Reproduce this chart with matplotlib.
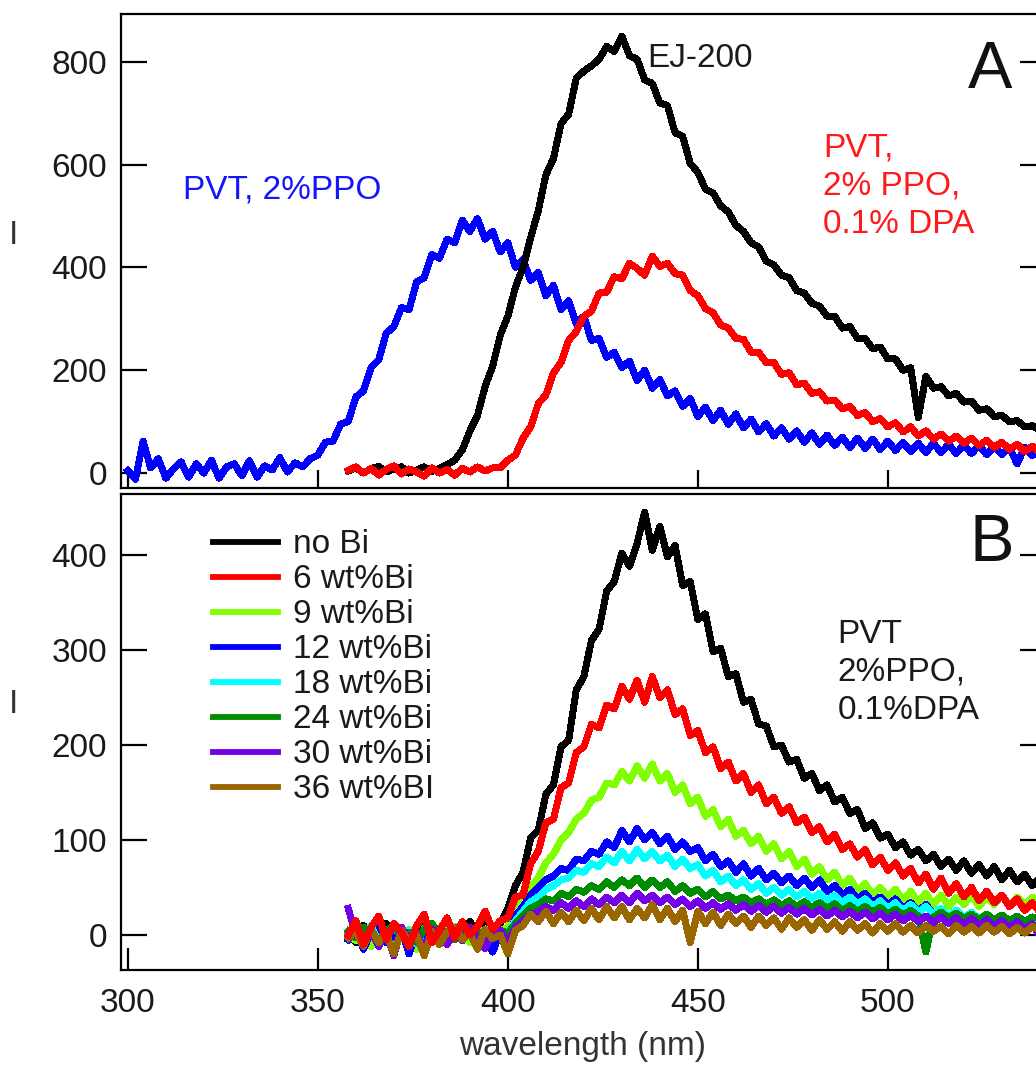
import numpy as np
import matplotlib.pyplot as plt

plt.rcParams['font.family'] = ['Liberation Sans', 'DejaVu Sans']

# ---------- panel A: pure scintillator spectra ----------
wl_ppo = np.arange(300, 541, 2)
ppo = [5, -12, 62, 10, 28, -10, 8, 22, -8, 18, 0, 25, -10, 12, 18, -5, 24, -8, 14, 6,
       30, 2, 20, 12, 28,
       35, 60, 62, 95, 100, 148, 160, 205, 220, 272,
       285, 322, 318, 372, 380, 425, 418, 455, 448, 492,
       470, 495, 455, 470, 430, 448, 400, 415, 375, 390,
       345, 365, 318, 335, 290, 305, 258, 262, 225, 235,
       205, 218, 180, 200, 165, 182, 150, 160, 130, 145,
       110, 128, 102, 122, 95, 115, 88, 105, 80, 96,
       72, 88, 66, 82, 60, 78, 56, 74, 54, 70,
       50, 68, 48, 66, 46, 62, 44, 60, 42, 58,
       40, 58, 40, 56, 38, 55, 38, 54, 36, 52,
       36, 50, 18, 50, 34, 48]

wl = np.arange(358, 541, 2)
ej200 = [4, 10, 0, 9, 13, 2, 8, 12, 0, 6, 12, 3, 9, 16,
         25, 45, 82, 112, 168, 208, 268, 305, 362, 400,
         458, 510, 580, 612, 680, 698, 768, 782, 792, 805,
         830, 820, 850, 812, 805, 765, 758, 720, 715, 662,
         655, 602, 585, 552, 545, 520, 508, 482, 470, 448,
         440, 412, 405, 385, 380, 355, 350, 330, 325, 305,
         305, 282, 285, 262, 262, 242, 245, 222, 222, 200,
         205, 108, 188, 165, 168, 150, 155, 138, 140, 122,
         125, 110, 112, 100, 102, 90, 92, 84]
ppo_dpa = [5, 12, 0, 9, -4, 7, 14, -2, 8, 2, -6, 10, 0, 7, -4, 9, 2, 12, 4, 10,
           10, 25, 35, 68, 90, 135, 152, 195, 215, 258,
           275, 305, 315, 350, 352, 382, 378, 408, 398, 385,
           422, 402, 408, 388, 385, 355, 345, 320, 312, 288,
           282, 262, 260, 235, 235, 215, 215, 192, 195, 172,
           175, 155, 158, 140, 142, 125, 130, 112, 118, 100,
           106, 90, 98, 80, 90, 72, 82, 66, 76, 62,
           72, 58, 68, 54, 64, 50, 60, 46, 56, 42,
           52, 40]

# ---------- panel B: Bi-loaded PVT, 2%PPO, 0.1%DPA ----------
bi_labels = ['no Bi', '6 wt%Bi', '9 wt%Bi', '12 wt%Bi',
             '18 wt%Bi', '24 wt%Bi', '30 wt%Bi', '36 wt%BI']
bi_colors = ['#000000', '#ff0000', '#80ff00', '#0000ff',
             '#00ffff', '#008c00', '#7300e6', '#996600']

bi_0 = [3, -8, 10, 2, -5, 12, 0, 8, -6, 4, 15, -3, 6, 10, -2, 7, 14, 3, 18, 8, 12,
        28, 52, 66, 102, 110, 148, 158, 198, 205, 258,
        272, 310, 322, 362, 372, 402, 388, 412, 445, 405,
        430, 398, 410, 368, 372, 332, 338, 298, 302, 272,
        275, 245, 248, 222, 220, 198, 200, 182, 185, 165,
        170, 152, 158, 140, 145, 128, 132, 112, 118, 102,
        106, 92, 98, 84, 90, 78, 85, 72, 80, 68,
        78, 65, 74, 62, 72, 58, 68, 56, 64, 52,
        60]
bi_6 = [0, 15, -10, 8, 20, -5, 12, 3, -12, 10, 22, -8, 5, 18, -3, 14, 0, 9, 25, 6, 15,
        18, 40, 42, 75, 88, 118, 122, 155, 160, 192,
        198, 222, 218, 242, 238, 262, 248, 268, 245, 272,
        250, 258, 232, 238, 210, 215, 192, 198, 175, 182,
        162, 170, 150, 158, 138, 145, 128, 135, 118, 124,
        108, 114, 98, 106, 90, 96, 82, 90, 74, 82,
        68, 76, 62, 70, 55, 64, 48, 60, 44, 54,
        40, 50, 36, 46, 34, 42, 30, 38, 26, 34,
        24]
bi_9 = [2, -6, 8, -12, 5, 0, 10, -4, 6, -15, 3, 8, -2, 12, 0, 5, -8, 6, 2, 10, 4,
        8, 28, 38, 52, 60, 76, 85, 100, 108, 122,
        128, 142, 145, 160, 158, 172, 162, 178, 165, 180,
        162, 170, 150, 158, 138, 145, 125, 132, 114, 122,
        104, 110, 96, 104, 88, 96, 80, 88, 72, 80,
        64, 72, 58, 66, 52, 60, 46, 54, 42, 50,
        40, 48, 36, 46, 34, 44, 32, 42, 30, 40,
        32, 42, 30, 40, 32, 42, 30, 40, 32, 40,
        34]
bi_12 = [-5, 8, -15, 3, 10, -8, 0, 6, -20, 4, -3, 12, -10, 2, 5, -6, 8, -12, 0, -18, 3,
         -10, 20, 30, 42, 50, 58, 62, 70, 68, 80,
         78, 88, 85, 98, 92, 110, 98, 112, 100, 108,
         96, 104, 90, 98, 88, 92, 78, 85, 72, 78,
         66, 75, 62, 70, 58, 65, 55, 62, 52, 60,
         50, 58, 46, 52, 42, 48, 38, 44, 34, 40,
         32, 38, 28, 34, 25, 32, 22, 28, 20, 26,
         18, 24, 16, 22, 15, 21, 14, 20, 12, 18,
         14]
bi_18 = [0, 6, -4, 10, -8, 3, 8, -2, 5, -10, 7, 0, -5, 4, 9, -3, 6, -6, 2, 5, 0,
         3, 15, 25, 35, 40, 48, 52, 58, 60, 68,
         66, 75, 72, 82, 76, 88, 78, 90, 80, 88,
         78, 84, 72, 80, 70, 74, 62, 68, 56, 62,
         52, 58, 48, 54, 44, 50, 42, 48, 40, 46,
         38, 44, 36, 42, 34, 40, 32, 38, 30, 36,
         28, 34, 26, 32, 24, 30, 22, 28, 20, 26,
         18, 24, 17, 22, 16, 21, 14, 20, 13, 18,
         12]
bi_24 = [4, -3, 8, 0, -6, 5, 10, -2, 3, -8, 6, 12, 0, 4, -5, 8, 2, -3, 6, 0, 5,
         2, 12, 20, 28, 32, 38, 36, 44, 40, 48,
         45, 52, 48, 56, 50, 58, 52, 60, 50, 58,
         50, 56, 46, 52, 44, 48, 40, 46, 38, 42,
         36, 40, 34, 38, 32, 37, 31, 36, 30, 35,
         29, 34, 28, 33, 26, 31, 25, 30, 24, 29,
         22, 27, 21, 26, 20, -18, 19, 24, 18, 23,
         17, 22, 16, 22, 16, 21, 15, 20, 14, 19,
         18]
bi_30 = [28, 0, -8, 5, -12, 3, -22, 8, -5, 2, -15, 6, 0, -10, 4, -6, 8, -3, -14, 2, 5,
         -8, 8, 15, 22, 24, 30, 26, 34, 28, 36,
         30, 38, 32, 40, 34, 42, 34, 44, 36, 42,
         34, 40, 32, 38, 30, 36, 28, 34, 27, 33,
         26, 32, 25, 31, 24, 30, 23, 29, 22, 28,
         21, 27, 20, 26, 19, 25, 18, 24, 17, 23,
         16, 22, 15, 21, 14, 20, 13, 19, 12, 18,
         11, 17, 10, 16, 9, 15, 8, 14, 6, 12,
         -2]
bi_36 = [-3, 4, -12, 6, -8, 2, -20, 5, -6, 0, -22, 4, -10, 3, 8, -5, 2, -15, 6, -4, 0,
         -20, 5, 10, 22, 14, 25, 12, 24, 14, 26,
         15, 28, 16, 30, 18, 30, 16, 28, 18, 32,
         16, 28, 14, 26, -8, 25, 12, 24, 10, 22,
         12, 20, 8, 20, 10, 18, 6, 18, 8, 16,
         5, 16, 6, 14, 4, 14, 5, 12, 2, 12,
         4, 12, 3, 10, 2, 10, 4, 9, 1, 10,
         3, 9, 2, 10, 3, 9, 1, 8, 2, 9,
         5]
bi_series = [bi_0, bi_6, bi_9, bi_12, bi_18, bi_24, bi_30, bi_36]

fs = 24
txt = '#1a1a1a'
fig = plt.figure(figsize=(10.36, 10.68), dpi=100)
axA = fig.add_axes([0.1168, 0.5431, 0.8851, 0.4438])
axB = fig.add_axes([0.1168, 0.0918, 0.8851, 0.4457])

lw = 4.3
axA.plot(wl_ppo, ppo, color='#0000ff', lw=lw, antialiased=False)
axA.plot(wl, ej200, color='#000000', lw=lw, antialiased=False)
axA.plot(wl, ppo_dpa, color='#ff0000', lw=lw, antialiased=False)

# red goes last so it sits on top of the baseline noise
order = [0, 2, 3, 4, 5, 6, 7, 1]
lines = {}
for i in order:
    ln, = axB.plot(wl, bi_series[i], color=bi_colors[i], lw=lw, antialiased=False,
                   label=bi_labels[i])
    lines[i] = ln

for ax in (axA, axB):
    ax.set_xlim(298.2, 539.5)
    ax.set_xticks([300, 350, 400, 450, 500])
    for s in ax.spines.values():
        s.set_linewidth(1.6)
    ax.tick_params(axis='y', which='major', direction='in', length=18.5, width=1.6,
                   labelsize=fs, labelcolor=txt, pad=10, right=True)
    ax.tick_params(axis='y', which='major', right=True, labelright=False)
    ax.tick_params(axis='x', which='major', direction='in', width=1.6,
                   labelsize=fs, labelcolor=txt, pad=13, top=False)
    ax.set_ylabel('I', fontsize=fs, color='#333333', rotation=0)

axA.set_ylim(-29, 893)
axA.set_yticks([0, 200, 400, 600, 800])
axA.tick_params(axis='x', length=13, labelbottom=False)
axA.yaxis.set_label_coords(-0.117, 0.50)

axB.set_ylim(-36.8, 464.2)
axB.set_yticks([0, 100, 200, 300, 400])
axB.tick_params(axis='x', length=16)
axB.yaxis.set_label_coords(-0.117, 0.525)
axB.set_xlabel('wavelength (nm)', fontsize=fs, color='#333333')
axB.xaxis.set_label_coords(0.503, -0.128)

# right-side ticks are shorter than the left ones
for ax in (axA, axB):
    for t in ax.yaxis.get_major_ticks():
        t.tick2line.set_markersize(13)

axA.text(314.5, 550, 'PVT, 2%PPO', color='#1414ff', fontsize=fs, va='center')
axA.text(436.8, 807, 'EJ-200', color='#1a1a1a', fontsize=fs, va='center')
axA.text(482.9, 662, 'PVT,\n2% PPO,\n0.1% DPA', color='#ff1a1a', fontsize=fs,
         va='top', linespacing=1.3)
axA.text(526.8, 783, 'A', color='#111111', fontsize=48, ha='center', va='center')

axB.text(486.8, 333, 'PVT\n2%PPO,\n0.1%DPA', color='#1a1a1a', fontsize=fs,
         va='top', linespacing=1.3)
axB.text(527.4, 412, 'B', color='#111111', fontsize=48, ha='center', va='center')

leg = axB.legend([lines[i] for i in range(8)], bi_labels, loc='upper left',
                 bbox_to_anchor=(0.075, 0.975), frameon=False, fontsize=fs,
                 handlelength=1.95, handletextpad=0.45, labelspacing=0.12,
                 borderpad=0.2)
for h in leg.get_lines():
    h.set_linewidth(4.2)
for t in leg.get_texts():
    t.set_color(txt)

fig.savefig('out.png', dpi=100)
